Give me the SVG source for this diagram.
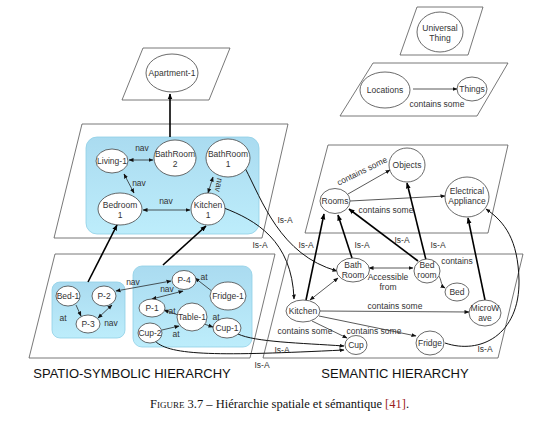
<svg xmlns="http://www.w3.org/2000/svg" width="552" height="435" viewBox="0 0 552 435">
<defs>
<linearGradient id="blue" x1="0" y1="0" x2="0" y2="1">
<stop offset="0" stop-color="#aadbf0"/>
<stop offset="1" stop-color="#bdedfb"/>
</linearGradient>
<marker id="ah" viewBox="0 0 10 10" refX="9" refY="5" markerWidth="5" markerHeight="5" orient="auto-start-reverse" markerUnits="userSpaceOnUse">
<path d="M0,1 L10,5 L0,9 z" fill="#111"/>
</marker>
<marker id="ahb" viewBox="0 0 10 10" refX="9" refY="5" markerWidth="6" markerHeight="6" orient="auto-start-reverse" markerUnits="userSpaceOnUse">
<path d="M0,1 L10,5 L0,9 z" fill="#000"/>
</marker>
<style>
.plane{fill:#fff;stroke:#555;stroke-width:0.8}
.box{fill:url(#blue);stroke:#8fcfe6;stroke-width:0.8}
.n ellipse{fill:#fff;stroke:#444;stroke-width:0.8}
text{font-family:"Liberation Sans",Arial,sans-serif;font-size:8.5px;fill:#333}
.n text{text-anchor:middle}
.lbl{text-anchor:middle}
.thin{fill:none;stroke:#222;stroke-width:0.75;marker-end:url(#ah)}
.cur{fill:none;stroke:#111;stroke-width:1;marker-end:url(#ah)}
.dbl{fill:none;stroke:#222;stroke-width:0.75;marker-end:url(#ah);marker-start:url(#ah)}
.thick{fill:none;stroke:#000;stroke-width:1.6;marker-end:url(#ahb)}
.title{font-size:13px;fill:#111;text-anchor:middle}
.cap{font-family:"Liberation Serif","Times New Roman",serif;font-size:12.5px;fill:#111}
</style>
</defs>
<rect width="552" height="435" fill="#fff"/>

<g id="planes">
<polygon class="plane" points="143,48 230,48 209,100 122,100"/>
<polygon class="plane" points="82,124 288,124 262,238 54,238"/>
<polygon class="plane" points="55,254 275,254 250,358 29,358"/>
<polygon class="plane" points="417,7 483,7 468,55 400,55"/>
<polygon class="plane" points="373,63 508,63 477,116 340,116"/>
<polygon class="plane" points="328,145 508,145 488,233 305,233"/>
<polygon class="plane" points="289,254 523,254 498,358 263,358"/>
<rect class="box" x="86" y="137" width="173" height="97" rx="11"/>
<rect class="box" x="52" y="282" width="73" height="56" rx="8"/>
<rect class="box" x="133" y="266" width="119" height="81" rx="9"/>
</g>

<g id="connectors">
<line class="thick" x1="170" y1="137" x2="170" y2="94"/>
<line class="thick" x1="88" y1="282" x2="117" y2="225"/>
<line class="thick" x1="163" y1="265" x2="206" y2="226"/>
<line class="dbl" x1="129" y1="160" x2="153" y2="160"/>
<line class="dbl" x1="124" y1="174" x2="134" y2="193"/>
<line class="dbl" x1="143" y1="210" x2="190" y2="210"/>
<line class="dbl" x1="213" y1="177" x2="208" y2="193"/>
<line class="thin" x1="76" y1="305" x2="81" y2="316"/>
<line class="dbl" x1="98" y1="318" x2="112" y2="305"/>
<line class="dbl" x1="116" y1="291" x2="171" y2="281"/>
<line class="dbl" x1="152" y1="299" x2="183" y2="291"/>
<line class="thin" x1="213" y1="292" x2="195" y2="278"/>
<line class="thin" x1="178" y1="315" x2="164" y2="310"/>
<line class="thin" x1="204" y1="324" x2="213" y2="327"/>
<line class="thin" x1="162" y1="330" x2="179" y2="326"/>
<path class="cur" d="M245,168 C262,200 280,255 337,271"/>
<path class="cur" d="M224,208 C255,220 292,240 294,299"/>
<path class="cur" d="M238,334 C255,342 300,343 344,346"/>
<path class="cur" d="M155,341 C170,356 220,356 344,350"/>
<line class="thin" x1="413" y1="89" x2="457" y2="89"/>
<line class="thin" x1="348" y1="194" x2="390" y2="170"/>
<line class="thin" x1="350" y1="201" x2="445" y2="196"/>
<line class="thick" x1="306" y1="300" x2="324" y2="214"/>
<line class="thick" x1="352" y1="258" x2="338" y2="215"/>
<line class="thick" x1="418" y1="261" x2="349" y2="209"/>
<line class="thick" x1="426" y1="260" x2="407" y2="183"/>
<line class="thick" x1="485" y1="300" x2="468" y2="218"/>
<path class="cur" d="M445,343 C480,355 520,335 519,280 C518,240 505,222 486,209"/>
<line class="dbl" x1="310" y1="300" x2="338" y2="278"/>
<line class="dbl" x1="369" y1="268" x2="413" y2="268"/>
<path class="thin" d="M438,275 C442,279 440,285 445,288"/>
<line class="thin" x1="320" y1="311" x2="469" y2="312"/>
<line class="thin" x1="319" y1="316" x2="416" y2="336"/>
<line class="thin" x1="312" y1="321" x2="347" y2="338"/>
</g>

<g id="labels">
<text class="lbl" x="142" y="151">nav</text>
<text class="lbl" x="139" y="186">nav</text>
<text class="lbl" x="166" y="204">nav</text>
<text class="lbl" transform="translate(219,185) rotate(100)" y="3">nav</text>
<text class="lbl" x="63" y="321">at</text>
<text class="lbl" x="111" y="326">nav</text>
<text class="lbl" x="133" y="285">nav</text>
<text class="lbl" x="167" y="292">nav</text>
<text class="lbl" x="204" y="280">at</text>
<text class="lbl" x="172" y="314">at</text>
<text class="lbl" x="216" y="320">at</text>
<text class="lbl" x="176" y="337">at</text>
<text class="lbl" x="437" y="107">contains some</text>
<text class="lbl" transform="translate(362,171) rotate(-26)" y="3">contains some</text>
<text class="lbl" x="386" y="213">contains some</text>
<text class="lbl" x="285" y="223">Is-A</text>
<text class="lbl" x="260" y="248">Is-A</text>
<text class="lbl" x="306" y="248">Is-A</text>
<text class="lbl" x="362" y="248">Is-A</text>
<text class="lbl" x="402" y="243">Is-A</text>
<text class="lbl" x="438" y="248">Is-A</text>
<text class="lbl" x="388" y="280">Accessible</text>
<text class="lbl" x="388" y="290">from</text>
<text class="lbl" x="457" y="264">contains</text>
<text class="lbl" x="395" y="309">contains some</text>
<text class="lbl" x="305" y="334">contains some</text>
<text class="lbl" x="374" y="334">contains some</text>
<text class="lbl" x="282" y="353">Is-A</text>
<text class="lbl" x="262" y="368">Is-A</text>
<text class="lbl" x="485" y="352">Is-A</text>
<text class="title" x="132" y="378">SPATIO-SYMBOLIC HIERARCHY</text>
<text class="title" x="395" y="378">SEMANTIC HIERARCHY</text>
<text class="cap" x="150" y="408"><tspan font-variant="small-caps">Figure</tspan> 3.7 – Hiérarchie spatiale et sémantique  <tspan fill="#9b1c1c">[41]</tspan>.</text>
</g>

<g id="apartment-1" class="n"><ellipse cx="172" cy="73" rx="26" ry="19"/><text x="172" y="76">Apartment-1</text></g>
<g id="living-1" class="n"><ellipse cx="112" cy="161" rx="16" ry="12"/><text x="112" y="164">Living-1</text></g>
<g id="bathroom-2" class="n"><ellipse cx="175" cy="158" rx="21" ry="18"/><text x="175" y="157">BathRoom</text><text x="175" y="167">2</text></g>
<g id="bathroom-1" class="n"><ellipse cx="228" cy="158" rx="22" ry="19"/><text x="228" y="157">BathRoom</text><text x="228" y="167">1</text></g>
<g id="bedroom-1" class="n"><ellipse cx="120" cy="209" rx="22" ry="16"/><text x="120" y="208">Bedroom</text><text x="120" y="218">1</text></g>
<g id="kitchen-1" class="n"><ellipse cx="208" cy="209" rx="17" ry="16"/><text x="208" y="208">Kitchen</text><text x="208" y="218">1</text></g>
<g id="bed-1" class="n"><ellipse cx="68" cy="296" rx="12" ry="10"/><text x="68" y="299">Bed-1</text></g>
<g id="p-2" class="n"><ellipse cx="104" cy="296" rx="12" ry="10"/><text x="104" y="299">P-2</text></g>
<g id="p-3" class="n"><ellipse cx="88" cy="324" rx="12" ry="9"/><text x="88" y="327">P-3</text></g>
<g id="p-4" class="n"><ellipse cx="184" cy="280" rx="12" ry="9.5"/><text x="184" y="283">P-4</text></g>
<g id="fridge-1" class="n"><ellipse cx="228" cy="296" rx="18" ry="14"/><text x="228" y="299">Fridge-1</text></g>
<g id="p-1" class="n"><ellipse cx="152" cy="308" rx="13" ry="9"/><text x="152" y="311">P-1</text></g>
<g id="table-1" class="n"><ellipse cx="192" cy="317" rx="15" ry="14"/><text x="192" y="320">Table-1</text></g>
<g id="cup-2" class="n"><ellipse cx="150" cy="333" rx="12" ry="10"/><text x="150" y="336">Cup-2</text></g>
<g id="cup-1" class="n"><ellipse cx="227" cy="328" rx="14" ry="10"/><text x="227" y="331">Cup-1</text></g>
<g id="universal-thing" class="n"><ellipse cx="440" cy="32" rx="23" ry="20"/><text x="440" y="31">Universal</text><text x="440" y="41">Thing</text></g>
<g id="locations" class="n"><ellipse cx="385" cy="90" rx="25" ry="18"/><text x="385" y="93">Locations</text></g>
<g id="things" class="n"><ellipse cx="472" cy="89" rx="15" ry="12"/><text x="472" y="92">Things</text></g>
<g id="objects" class="n"><ellipse cx="407" cy="165" rx="18" ry="17"/><text x="407" y="168">Objects</text></g>
<g id="rooms" class="n"><ellipse cx="335" cy="201" rx="15" ry="12.5"/><text x="335" y="204">Rooms</text></g>
<g id="electrical-appliance" class="n"><ellipse cx="467" cy="197" rx="22" ry="20"/><text x="467" y="194">Electrical</text><text x="467" y="204">Appliance</text></g>
<g id="bath-room" class="n"><ellipse cx="353" cy="270" rx="16.5" ry="12"/><text x="353" y="268">Bath</text><text x="353" y="278">Room</text></g>
<g id="bed-room" class="n"><ellipse cx="427" cy="271" rx="13" ry="12"/><text x="427" y="268">Bed</text><text x="427" y="278">room</text></g>
<g id="bed" class="n"><ellipse cx="457" cy="292" rx="12" ry="9"/><text x="457" y="295">Bed</text></g>
<g id="microwave" class="n"><ellipse cx="485" cy="313" rx="16" ry="13"/><text x="485" y="311">MicroW</text><text x="485" y="321">ave</text></g>
<g id="kitchen" class="n"><ellipse cx="303" cy="311" rx="17" ry="11"/><text x="303" y="314">Kitchen</text></g>
<g id="cup" class="n"><ellipse cx="356" cy="345" rx="11" ry="9.5"/><text x="356" y="348">Cup</text></g>
<g id="fridge" class="n"><ellipse cx="430" cy="343" rx="14" ry="12"/><text x="430" y="346">Fridge</text></g>
</svg>
